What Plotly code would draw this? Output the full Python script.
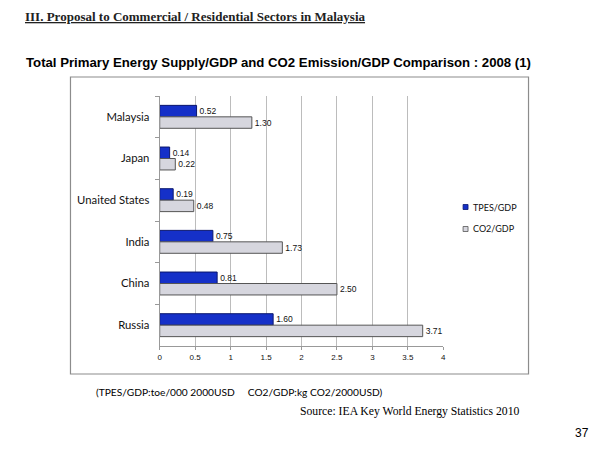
import plotly.graph_objects as go

# data
countries = ["Malaysia", "Japan", "Unaited States", "India", "China", "Russia"]
tpes_gdp = [0.52, 0.14, 0.19, 0.75, 0.81, 1.60]
co2_gdp = [1.30, 0.22, 0.48, 1.73, 2.50, 3.71]
x_ticks = [0, 0.5, 1, 1.5, 2, 2.5, 3, 3.5, 4]
x_tick_text = ["0", "0.5", "1", "1.5", "2", "2.5", "3", "3.5", "4"]
series_names = ["TPES/GDP", "CO2/GDP"]
series_colors = ["#1530c8", "#d6d6de"]
series_lines = ["#0a166e", "#555"]

W, H = 584, 434   # page body keeps an 8px margin


def px(x):
    return (x - 8) / W


def py(y):
    return 1 - (y - 8) / H


fig = go.Figure()
for name, vals, col, lcol in zip(series_names, [tpes_gdp, co2_gdp], series_colors, series_lines):
    fig.add_trace(go.Bar(
        y=countries, x=vals, orientation="h", name=name,
        marker=dict(color=col, line=dict(color=lcol, width=1)),
        texttemplate="%{x:.2f}", textposition="outside",
        textfont=dict(size=8.5, color="#111", family="Liberation Sans"),
        cliponaxis=False, showlegend=False,
    ))

fig.update_layout(
    width=W, height=H,
    margin=dict(l=0, r=0, t=0, b=0),
    paper_bgcolor="white", plot_bgcolor="white",
    barmode="group", bargap=0.45, bargroupgap=0,
    font=dict(family="Liberation Sans", color="#111"),
    xaxis=dict(domain=[px(159), px(445)], range=[0, 4], tickvals=x_ticks,
               ticktext=x_tick_text, showgrid=True, gridcolor="#bcbcbc",
               gridwidth=1, zeroline=False, showline=True, linecolor="#999",
               ticks="outside", ticklen=3, tickcolor="#999",
               tickfont=dict(size=8, family="Liberation Sans")),
    yaxis=dict(domain=[py(346), py(96)], autorange="reversed",
               showline=True, linecolor="#999", ticks="outside", ticklen=4,
               tickcolor="#999", tickson="boundaries", showgrid=False,
               ticklabelstandoff=7,
               tickfont=dict(size=11.3, family="Lato", color="#111")),
)

# outer frame of the chart
fig.add_shape(type="rect", xref="paper", yref="paper",
              x0=px(69), x1=px(531), y0=py(374), y1=py(77),
              line=dict(color="#8c8c8c", width=1.2))

# legend drawn by hand: small square keys like the original
for i, (name, col, lcol) in enumerate(zip(series_names, series_colors, series_lines)):
    yc = 207 + 22 * i
    fig.add_shape(type="rect", xref="paper", yref="paper",
                  x0=px(465), x1=px(470), y0=py(yc + 2.5), y1=py(yc - 2.5),
                  fillcolor=col, line=dict(color=lcol, width=0.8))
    fig.add_annotation(text=name, xref="paper", yref="paper",
                       x=px(473), y=py(yc), xanchor="left", yanchor="middle",
                       showarrow=False, font=dict(family="Lato", size=9, color="#111"))

fig.add_annotation(text="<b><u>III. Proposal to Commercial / Residential Sectors in Malaysia</u></b>",
                   xref="paper", yref="paper", x=px(22), y=py(8), borderpad=0,
                   xanchor="left", yanchor="top", showarrow=False,
                   font=dict(family="Liberation Serif", size=13, color="#222"))
fig.add_annotation(text="<b>Total Primary Energy Supply/GDP and CO2 Emission/GDP Comparison : 2008 (1)</b>",
                   xref="paper", yref="paper", x=px(22), y=py(62),
                   xanchor="left", yanchor="middle", showarrow=False,
                   font=dict(family="Liberation Sans", size=13.2, color="#000"))
fig.add_annotation(text="(TPES/GDP:toe/000 2000USD&nbsp;&nbsp;&nbsp;&nbsp;&nbsp;CO2/GDP:kg CO2/2000USD)",
                   xref="paper", yref="paper", x=px(93), y=py(392),
                   xanchor="left", yanchor="middle", showarrow=False,
                   font=dict(family="Lato", size=10.2, color="#000"))
fig.add_annotation(text="Source: IEA Key World Energy Statistics 2010",
                   xref="paper", yref="paper", x=px(298), y=py(411),
                   xanchor="left", yanchor="middle", showarrow=False,
                   font=dict(family="Liberation Serif", size=11.7, color="#000"))
fig.add_annotation(text="37",
                   xref="paper", yref="paper", x=px(594), y=py(433),
                   xanchor="right", yanchor="middle", showarrow=False,
                   font=dict(family="Liberation Sans", size=12, color="#000"))

fig.write_html("out.html")
